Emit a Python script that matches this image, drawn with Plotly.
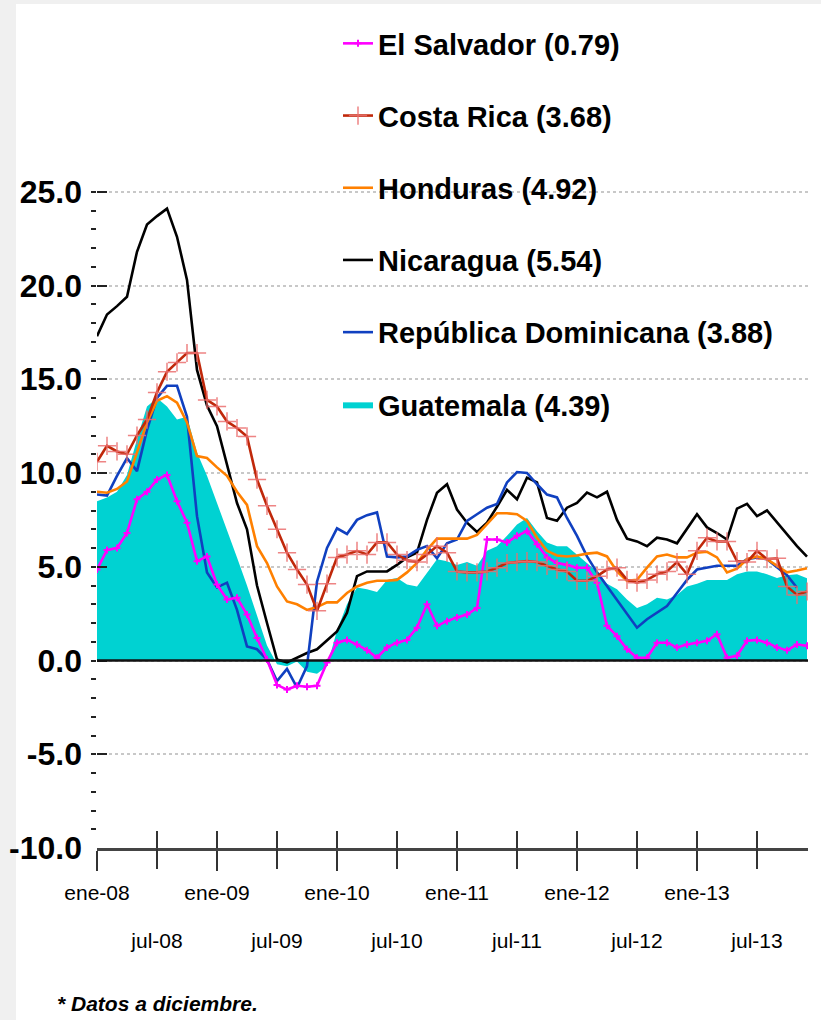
import plotly.graph_objects as go

# ---------------- data ----------------
month_abbr = ["ene", "feb", "mar", "abr", "may", "jun", "jul", "ago", "sep", "oct", "nov", "dic"]
years = ["08", "09", "10", "11", "12", "13"]
months = [f"{m}-{y}" for y in years for m in month_abbr]

ene_ticks = ["ene-08", "ene-09", "ene-10", "ene-11", "ene-12", "ene-13"]
jul_ticks = ["jul-08", "jul-09", "jul-10", "jul-11", "jul-12", "jul-13"]
y_ticks = [-10, -5, 0, 5, 10, 15, 20, 25]

el_salvador = [4.85, 5.9, 6.0, 6.8, 8.6, 9.0, 9.65, 9.9, 8.5, 7.35, 5.3, 5.55,
               4.05, 3.25, 3.35, 2.45, 1.2, 0.05, -1.3, -1.55, -1.35, -1.4, -1.35, -0.1,
               0.95, 1.1, 0.85, 0.55, 0.15, 0.7, 0.95, 1.1, 1.75, 3.0, 1.85, 2.1,
               2.3, 2.45, 2.8, 6.45, 6.45, 6.3, 6.65, 6.9, 6.2, 5.5, 5.2, 5.1,
               4.95, 4.95, 4.15, 1.85, 1.3, 0.6, 0.15, 0.15, 0.95, 0.95, 0.7, 0.85,
               0.95, 1.05, 1.4, 0.15, 0.25, 1.05, 1.1, 0.95, 0.7, 0.55, 0.85, 0.79]

costa_rica = [10.6, 11.45, 11.15, 11.0, 12.0, 12.85, 14.3, 15.4, 15.9, 16.4, 16.4, 13.9,
              13.55, 12.75, 12.4, 11.95, 9.65, 8.25, 7.0, 5.75, 4.85, 4.05, 2.65, 4.1,
              5.5, 5.65, 5.85, 5.65, 6.3, 6.3, 5.65, 5.35, 5.25, 5.65, 6.1, 5.75,
              4.75, 4.7, 4.7, 4.75, 4.95, 5.2, 5.25, 5.3, 5.25, 5.05, 4.85, 4.75,
              4.25, 4.25, 4.5, 4.85, 4.95, 4.3, 4.15, 4.3, 4.6, 4.75, 5.25, 4.6,
              5.85, 6.55, 6.35, 6.35, 5.3, 5.25, 5.85, 5.4, 5.45, 3.95, 3.5, 3.68]

honduras = [9.0, 8.95, 9.15, 9.55, 11.1, 12.7, 13.85, 14.1, 13.75, 12.7, 10.9, 10.8,
            10.3, 9.85, 9.0, 8.3, 6.1, 5.2, 3.95, 3.15, 3.0, 2.7, 2.85, 3.1,
            3.1, 3.6, 3.95, 4.15, 4.25, 4.25, 4.3, 4.7, 5.2, 5.9, 6.5, 6.5,
            6.5, 6.5, 6.7, 7.25, 7.85, 7.85, 7.8, 7.45, 6.55, 5.85, 5.6, 5.55,
            5.6, 5.7, 5.75, 5.55, 4.75, 4.25, 4.3, 4.95, 5.55, 5.65, 5.5, 5.5,
            5.75, 5.8, 5.5, 4.7, 4.9, 5.4, 5.55, 5.4, 5.05, 4.7, 4.8, 4.92]

nicaragua = [17.3, 18.45, 18.9, 19.4, 21.8, 23.25, 23.7, 24.1, 22.6, 20.3, 15.5, 13.6,
             12.5, 10.4, 8.4, 7.0, 4.0, 2.0, 0.05, -0.1, 0.15, 0.4, 0.6, 1.1,
             1.55, 2.55, 4.5, 4.75, 4.75, 4.75, 5.1, 5.5, 5.75, 7.5, 8.95, 9.4,
             8.05, 7.35, 6.85, 7.35, 8.2, 9.1, 8.6, 9.75, 9.5, 7.6, 7.45, 8.15,
             8.4, 8.95, 8.7, 9.0, 7.5, 6.5, 6.35, 6.1, 6.55, 6.45, 6.25, 7.0,
             7.8, 7.1, 6.8, 6.45, 8.1, 8.35, 7.7, 8.0, 7.35, 6.7, 6.1, 5.54]

rep_dominicana = [8.85, 8.8, 9.85, 10.8, 10.1, 12.3, 14.0, 14.65, 14.65, 13.0, 7.7, 4.7,
                  3.9, 4.15, 2.7, 0.75, 0.6, 0.05, -1.1, -0.45, -1.45, -0.3, 4.2, 6.0,
                  7.05, 6.75, 7.5, 7.75, 7.9, 5.55, 5.5, 5.55, 5.9, 6.1, 5.45, 6.25,
                  6.45, 7.45, 7.8, 8.15, 8.35, 9.5, 10.05, 10.0, 9.4, 8.85, 8.7, 7.6,
                  6.65, 5.55, 4.7, 3.95, 3.25, 2.45, 1.75, 2.2, 2.55, 2.9, 3.6, 4.3,
                  4.85, 4.95, 5.05, 5.05, 5.05, 5.4, 5.5, 5.4, 4.95, 4.55, 3.88, None]

guatemala = [8.5, 8.7, 9.0, 9.9, 11.8, 13.55, 14.0, 13.55, 12.85, 13.0, 11.1, 9.85,
             8.4, 7.0, 5.5, 4.0, 2.35, 0.8, -0.2, -0.3, -0.05, -0.6, -0.7, -0.3,
             1.6, 3.0, 3.9, 3.8, 3.65, 4.3, 4.4, 4.05, 3.95, 4.7, 5.4, 5.3,
             5.1, 5.25, 5.05, 5.85, 6.1, 6.65, 7.25, 7.6, 6.9, 6.3, 6.1, 6.1,
             5.65, 5.2, 4.75, 4.1, 3.8, 3.25, 2.8, 3.0, 3.35, 3.25, 3.5, 3.95,
             4.1, 4.3, 4.3, 4.3, 4.6, 4.75, 4.75, 4.6, 4.4, 4.55, 4.6, 4.39]

names = ["El Salvador (0.79)", "Costa Rica (3.68)", "Honduras (4.92)",
         "Nicaragua (5.54)", "República Dominicana (3.88)", "Guatemala (4.39)"]

# ---------------- style ----------------
FONT = "Liberation Sans, Arial, sans-serif"
C_SAL = "#FF00FF"
C_CR = "#C0280A"
C_CR_MK = "rgba(235,110,110,0.85)"
C_HON = "#FF8000"
C_NIC = "#000000"
C_RD = "#1040C0"
C_GUA = "#00D2D2"

W, H = 821, 1020
L, R, T, B = 97, 13, 188, 172
PW, PH = W - L - R, H - T - B
LEG_FS = 29

fig = go.Figure()

fig.add_trace(go.Scatter(
    x=months, y=guatemala, name=names[5], mode="lines", fill="tozeroy",
    fillcolor=C_GUA, line=dict(width=0, color=C_GUA),
    legendgroup="g6", legendrank=6))

fig.add_trace(go.Scatter(
    x=months, y=nicaragua, name=names[3], mode="lines",
    line=dict(color=C_NIC, width=2.6), legendgroup="g4", legendrank=4))

fig.add_trace(go.Scatter(
    x=months, y=rep_dominicana, name=names[4], mode="lines",
    line=dict(color=C_RD, width=2.6), legendgroup="g5", legendrank=5))

fig.add_trace(go.Scatter(
    x=months, y=honduras, name=names[2], mode="lines",
    line=dict(color=C_HON, width=2.6), legendgroup="g3", legendrank=3))

fig.add_trace(go.Scatter(
    x=months, y=el_salvador, name=names[0], mode="lines+markers",
    line=dict(color=C_SAL, width=2.6),
    marker=dict(symbol="cross-thin", size=5, line=dict(color=C_SAL, width=2)),
    legendgroup="g1", legendrank=1))

fig.add_trace(go.Scatter(
    x=months, y=costa_rica, name=names[1], mode="lines+markers",
    line=dict(color=C_CR, width=2.6),
    marker=dict(symbol="cross-thin", size=13, line=dict(color=C_CR_MK, width=1.5)),
    legendgroup="g2", legendrank=2))

# empty helper traces so the secondary tick axes are rendered
fig.add_trace(go.Scatter(x=[], y=[], xaxis="x2", yaxis="y", showlegend=False,
                         hoverinfo="skip", mode="lines"))
fig.add_trace(go.Scatter(x=[], y=[], xaxis="x3", yaxis="y", showlegend=False,
                         hoverinfo="skip", mode="lines"))

shapes = [
    dict(type="line", xref="paper", yref="y", x0=0, x1=1, y0=0, y1=0,
         line=dict(color="#111111", width=2.5), layer="above"),
    dict(type="rect", xref="paper", yref="paper", x0=-L / PW, x1=(16 - L) / PW,
         y0=-B / PH, y1=(H - B) / PH, fillcolor="#F0F0F0",
         line=dict(width=0), layer="below"),
    dict(type="rect", xref="paper", yref="paper", x0=-L / PW, x1=(W - L) / PW,
         y0=(H - B - 4) / PH, y1=(H - B) / PH, fillcolor="#F0F0F0",
         line=dict(width=0), layer="below"),
]

ene_pos = [months.index(t) for t in ene_ticks]
jul_pos = [months.index(t) for t in jul_ticks]
all_pos = sorted(ene_pos + jul_pos)
xr = [0, 71.1]
xfont = dict(family=FONT, size=21, color="black")

fig.update_layout(
    width=W, height=H,
    margin=dict(l=L, r=R, t=T, b=B, autoexpand=False),
    paper_bgcolor="white", plot_bgcolor="white",
    showlegend=True,
    legend=dict(x=(338 - L) / PW, y=(H - B - 18) / PH, xanchor="left", yanchor="top",
                bgcolor="rgba(0,0,0,0)", traceorder="grouped",
                tracegroupgap=31.5,
                font=dict(family=FONT, size=LEG_FS, color="black", weight="bold"),
                itemwidth=30),
    shapes=shapes,
    xaxis=dict(type="category", range=xr, tickmode="array",
               tickvals=ene_ticks, ticktext=ene_ticks, tickangle=0,
               ticks="outside", ticklen=20, tickwidth=1.5, tickcolor="#333333",
               showline=True, linecolor="#444444", linewidth=3,
               showgrid=False, zeroline=False, ticklabelstandoff=4,
               automargin=False, tickfont=xfont),
    xaxis2=dict(overlaying="x", anchor="y", side="bottom", range=xr,
                tickmode="array", tickvals=jul_pos, ticktext=jul_ticks, tickangle=0,
                ticks="outside", ticklen=20, tickwidth=1.5, tickcolor="#333333",
                showline=False, showgrid=False, zeroline=False, ticklabelstandoff=54,
                automargin=False, tickfont=xfont),
    xaxis3=dict(overlaying="x", anchor="y", side="bottom", range=xr,
                tickmode="array", tickvals=all_pos, showticklabels=False,
                ticks="inside", ticklen=17, tickwidth=1.5, tickcolor="#333333",
                showline=False, showgrid=False, zeroline=False, automargin=False),
    yaxis=dict(range=[-10, 25.2], tickmode="array", tickvals=y_ticks,
               ticktext=[f"{v:.1f}" for v in y_ticks],
               ticks="inside", ticklen=10, tickwidth=2,
               tickcolor="#222222", showline=False, zeroline=False,
               showgrid=True, gridcolor="#C8C8C8", griddash="dot", gridwidth=1.5,
               minor=dict(dtick=1, ticks="outside", ticklen=5, tickwidth=2,
                          tickcolor="#222222", showgrid=False),
               ticklabelstandoff=14, automargin=False,
               tickfont=dict(family=FONT, size=32, color="black", weight="bold")),
    annotations=[dict(text="<b><i>* Datos a diciembre.</i></b>", xref="paper", yref="paper",
                      x=(55 - L) / PW, y=(H - B - 1003) / PH, xanchor="left", yanchor="middle",
                      showarrow=False,
                      font=dict(family=FONT, size=21, color="black"))],
)

fig.write_html("out.html", config={"displayModeBar": False},
               post_script="document.body.style.margin='0';")
